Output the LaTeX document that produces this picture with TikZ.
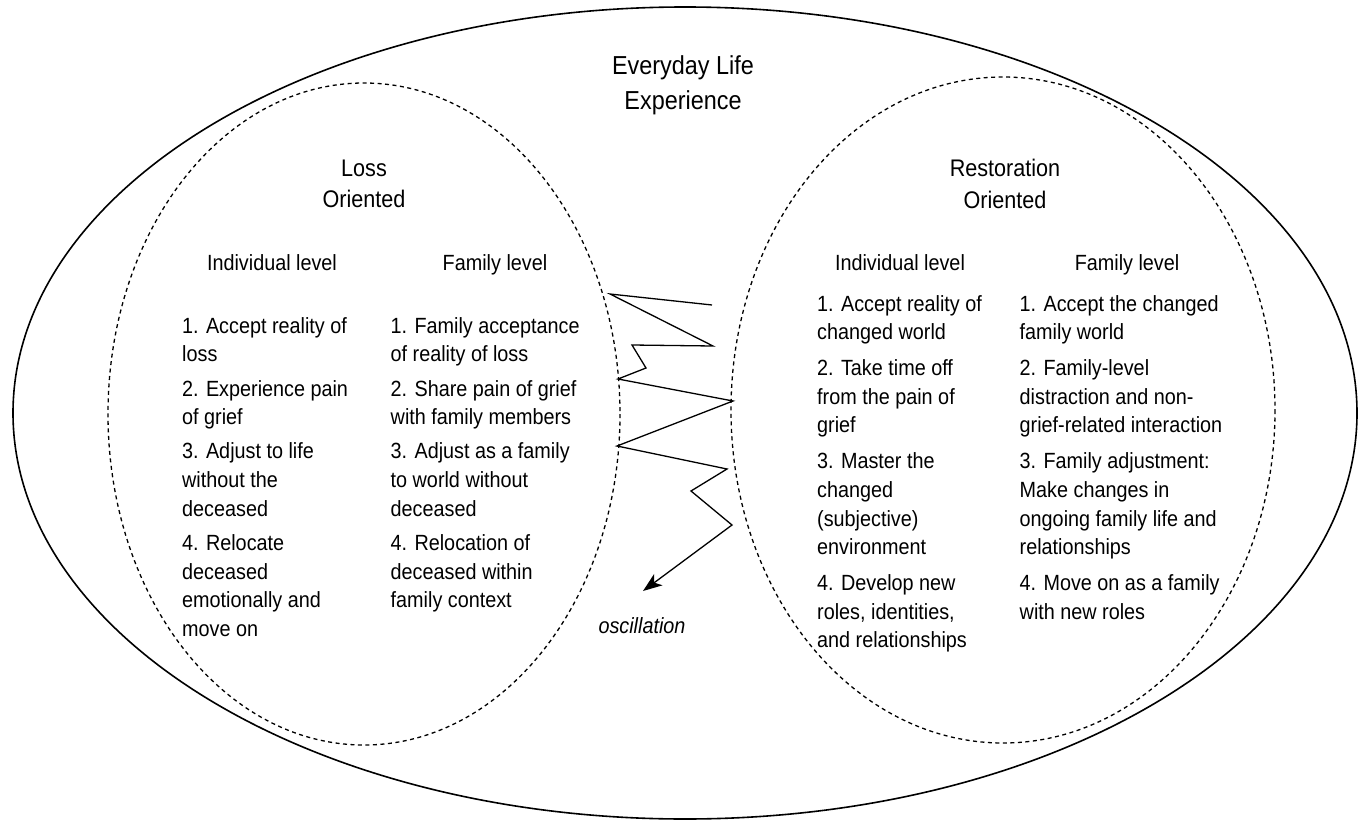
\documentclass[tikz,border=0pt]{standalone}
\usepackage{fontspec}
\setmainfont[FakeStretch=0.9]{Liberation Sans}
\usetikzlibrary{arrows.meta}
\tikzset{
  outerring/.style={draw=black, line width=1.6pt},
  dashring/.style={draw=black, line width=1.3pt, dash pattern=on 4pt off 3.5pt},
  title/.style={inner sep=0pt, anchor=north, align=center, font=\fontsize{26}{35}\selectfont},
  heading/.style={inner sep=0pt, anchor=north, align=center, font=\fontsize{24}{31.5}\selectfont},
  level/.style={inner sep=0pt, anchor=base, font=\fontsize{22}{28}\selectfont},
  items/.style={inner sep=0pt, anchor=north west, align=left, font=\fontsize{22}{28.7}\selectfont},
  zig/.style={draw=black, line width=1.3pt, line join=miter},
}
\begin{document}
\begin{tikzpicture}[x=1pt, y=-1pt]
\useasboundingbox (0,0) rectangle (1359,821);
% ellipses
\draw[outerring] (685,413) ellipse [x radius=672, y radius=406];
\draw[dashring] (364,414) ellipse [x radius=256, y radius=331];
\draw[dashring] (1003,410) ellipse [x radius=272, y radius=333];

% titles
\node[title] (ev) at (683,55.5) {Everyday Life\\Experience};
\node[heading] (loss) at (364,159.3) {Loss\\Oriented};
\node[heading] (rest) at (1005,159.3) {Restoration\\Oriented};

% level headings
\node[level] (li) at (272,270) {Individual level};
\node[level] (lf) at (495,270) {Family level};
\node[level] (ri) at (900,270) {Individual level};
\node[level] (rf) at (1127,270) {Family level};

% left columns
\node[items] (lic) at (182,317) {1. Accept reality of\\loss\\[5.5pt]
2. Experience pain\\of grief\\[5.5pt]
3. Adjust to life\\without the\\deceased\\[5.5pt]
4. Relocate\\deceased\\emotionally and\\move on};
\node[items] (lfc) at (390.5,317) {1. Family acceptance\\of reality of loss\\[5.5pt]
2. Share pain of grief\\with family members\\[5.5pt]
3. Adjust as a family\\to world without\\deceased\\[5.5pt]
4. Relocation of\\deceased within\\family context};

% right columns
\node[items] (ric) at (817,295) {1. Accept reality of\\changed world\\[7pt]
2. Take time off\\from the pain of\\grief\\[7pt]
3. Master the\\changed\\(subjective)\\environment\\[7pt]
4. Develop new\\roles, identities,\\and relationships};
\node[items] (rfc) at (1019.5,295) {1. Accept the changed\\family world\\[7pt]
2. Family-level\\distraction and non-\\grief-related interaction\\[7pt]
3. Family adjustment:\\Make changes in\\ongoing family life and\\relationships\\[7pt]
4. Move on as a family\\with new roles};

% oscillation zigzag
\coordinate (z0) at (712,305);
\coordinate (z1) at (610,294);
\coordinate (z2) at (713,346);
\coordinate (z3) at (632,345);
\coordinate (z4) at (646,368);
\coordinate (z5) at (618,379);
\coordinate (z6) at (733,401);
\coordinate (z7) at (617,446);
\coordinate (z8) at (727,469);
\coordinate (z9) at (691,491);
\coordinate (z10) at (732,525);
\coordinate (z11) at (643,591);
\draw[zig, -{Stealth[length=19pt, width=14pt, inset=5pt]}] (z0) -- (z1) -- (z2) -- (z3) -- (z4) -- (z5) -- (z6) -- (z7) -- (z8) -- (z9) -- (z10) -- (z11);
\node[inner sep=0pt, anchor=base, font=\fontsize{22}{28}\selectfont\itshape] (osc) at (642,633) {oscillation};
\end{tikzpicture}
\end{document}
